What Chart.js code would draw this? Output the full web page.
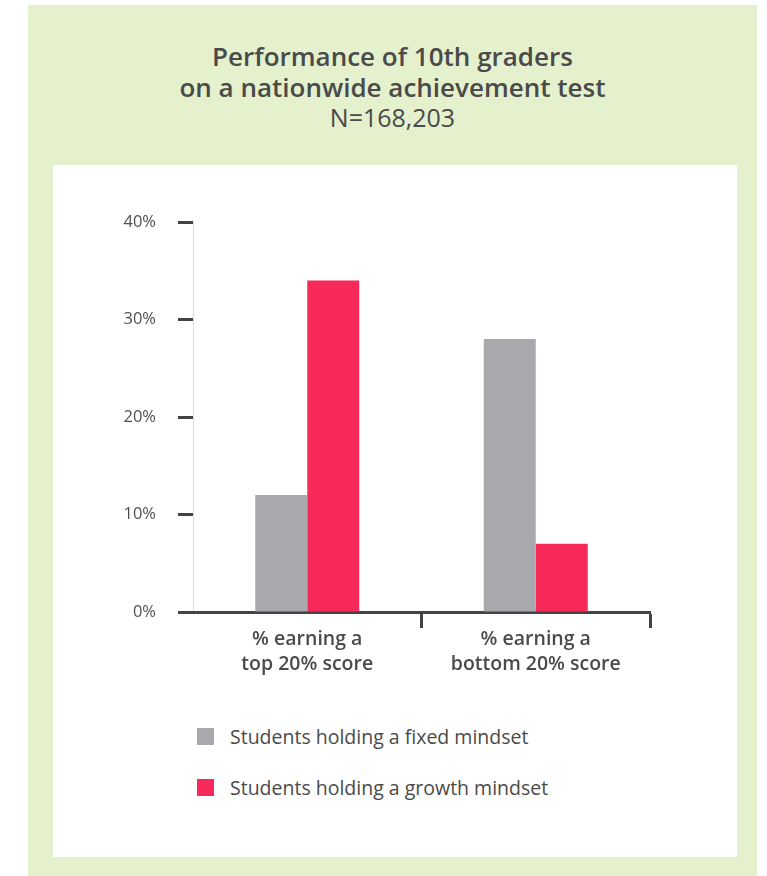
<!DOCTYPE html>
<html>
<head>
<meta charset="utf-8">
<script src="https://cdn.jsdelivr.net/npm/chart.js@4/dist/chart.umd.min.js"></script>
<style>
    body { margin: 0; background: #ffffff; font-family: "Open Sans", sans-serif; }
    #panel { position: absolute; left: 28px; top: 5px; width: 729px; height: 871px; background: #e5f0cd; }
    #title { position: absolute; left: 0; top: 36px; width: 100%; text-align: center; color: #4a4a4a; }
    #title .t { font-size: 26px; font-weight: 600; line-height: 31px; }
    #title .n { font-size: 25px; font-weight: 400; line-height: 28px; }
    #box { position: absolute; left: 25px; top: 160px; width: 684px; height: 692px; background: #ffffff; }
    #chartwrap { position: absolute; left: 0; top: 0; width: 684px; height: 540px; }
    #legend { position: absolute; left: 144px; top: 558px; }
    .item { height: 51px; display: flex; align-items: flex-start; color: #4a4a4a; font-size: 19.5px; }
    .sw { width: 17px; height: 17px; margin-right: 16px; margin-top: 5px; }
</style>
</head>
<body>
<div id="panel">
    <div id="title">
        <div class="t">Performance of 10th graders</div>
        <div class="t">on a nationwide achievement test</div>
        <div class="n">N=168,203</div>
    </div>
    <div id="box">
        <div id="chartwrap"><canvas id="mindsetchart"></canvas></div>
        <div id="legend"></div>
    </div>
</div>
<script>
var categories = [["% earning a", "top 20% score"], ["% earning a", "bottom 20% score"]];
var seriesNames = ["Students holding a fixed mindset", "Students holding a growth mindset"];
var fixedValues = [12, 28];
var growthValues = [34, 7];
var seriesColors = ["#a7a9ac", "#f72a5a"];
var yTicks = [0, 10, 20, 30, 40];

var mindsetchart = null;

function createMindsetChart() {
    const chartdata = {
        labels: categories,
        datasets: [
            {
                label: seriesNames[0],
                backgroundColor: seriesColors[0],
                data: fixedValues,
                barPercentage: 1.0,
                categoryPercentage: 0.455,
            },
            {
                label: seriesNames[1],
                backgroundColor: seriesColors[1],
                data: growthValues,
                barPercentage: 1.0,
                categoryPercentage: 0.455,
            },
        ],
    };
    const config = {
        type: "bar",
        data: chartdata,
        options: {
            responsive: true,
            maintainAspectRatio: false,
            animation: false,
            layout: {
                padding: { top: 57, right: 87, left: 0, bottom: 0 },
            },
            scales: {
                y: {
                    min: 0,
                    max: 40,
                    afterBuildTicks: function (scale) {
                        scale.ticks = yTicks.map(function (v) { return { value: v }; });
                    },
                    afterFit: function (scale) {
                        scale.width = 140;
                    },
                    border: { color: "#dddddd", width: 1 },
                    grid: {
                        drawOnChartArea: false,
                        tickLength: 15,
                        tickColor: "#444444",
                        tickWidth: 3,
                    },
                    ticks: {
                        padding: 22,
                        color: "#505050",
                        font: { family: "Open Sans", size: 16.5 },
                        callback: function (value) {
                            return value + "%";
                        },
                    },
                },
                x: {
                    afterFit: function (scale) {
                        scale.height = 93;
                    },
                    border: { color: "#444444", width: 3 },
                    grid: {
                        offset: true,
                        drawOnChartArea: false,
                        tickLength: 16,
                        tickWidth: 3,
                        tickColor: function (context) {
                            return context.index === 0 ? "rgba(0,0,0,0)" : "#444444";
                        },
                    },
                    ticks: {
                        padding: -1,
                        color: "#4a4a4a",
                        font: { family: "Open Sans", size: 19.5, weight: "600", lineHeight: 1.28 },
                    },
                },
            },
            plugins: {
                legend: { display: false },
                tooltip: { enabled: false },
            },
        },
    };
    if (mindsetchart != null) {
        mindsetchart.destroy();
    }
    mindsetchart = new Chart(document.getElementById("mindsetchart"), config);

    // legend below the chart, built from the datasets
    var legend = document.getElementById("legend");
    legend.innerHTML = "";
    mindsetchart.data.datasets.forEach(function (ds) {
        var item = document.createElement("div");
        item.className = "item";
        var sw = document.createElement("span");
        sw.className = "sw";
        sw.style.background = ds.backgroundColor;
        var txt = document.createElement("span");
        txt.textContent = ds.label;
        item.appendChild(sw);
        item.appendChild(txt);
        legend.appendChild(item);
    });
}

createMindsetChart();
</script>
</body>
</html>
